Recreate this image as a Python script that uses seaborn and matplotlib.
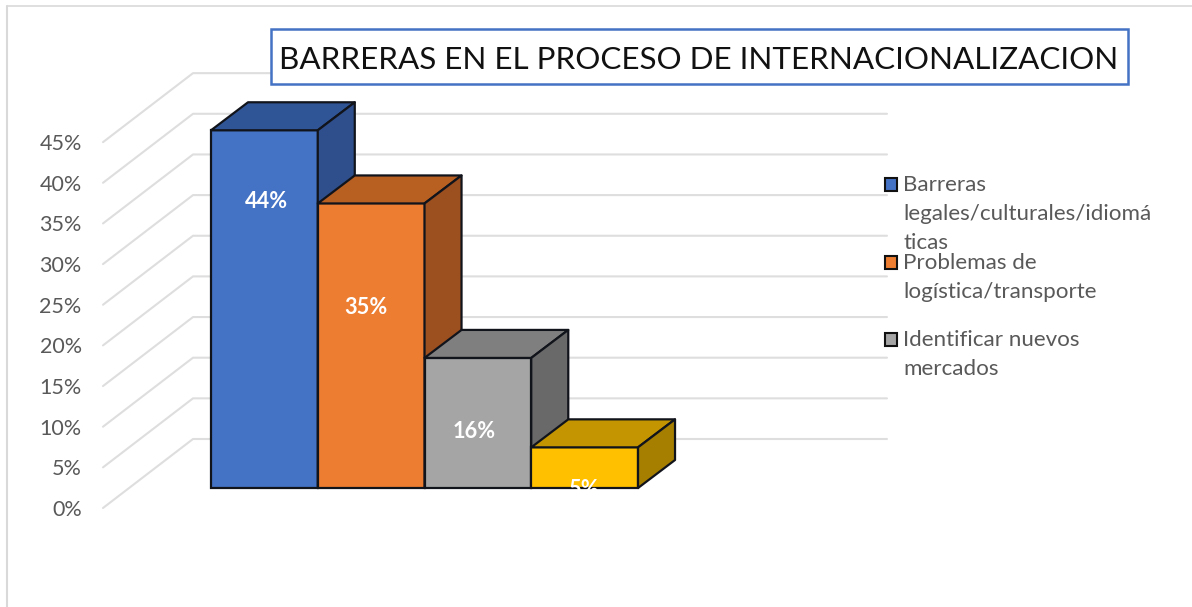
import numpy as np
import pandas as pd
import seaborn as sns
import matplotlib
matplotlib.use('Agg')
import matplotlib.pyplot as plt
from matplotlib.patches import Rectangle, Polygon
from matplotlib.lines import Line2D

categorias = ['Barreras legales/culturales/idiomáticas', 'Problemas de logística/transporte',
              'Identificar nuevos mercados', 'Otros']
valores = [44, 35, 16, 5]
etiquetas = ['44%', '35%', '16%', '5%']
ticks = [0, 5, 10, 15, 20, 25, 30, 35, 40, 45]
titulo = 'BARRERAS EN EL PROCESO DE INTERNACIONALIZACION'
leyenda = ['Barreras\nlegales/culturales/idiomá\nticas', 'Problemas de\nlogística/transporte',
           'Identificar nuevos\nmercados']

col_frente = ['#4472C4', '#ED7D31', '#A5A5A5', '#FFC000']
col_arriba = ['#2F5597', '#B85F22', '#7F7F7F', '#C49500']
col_lado = ['#2E4F8C', '#9C4F1F', '#696969', '#A67F00']
borde = '#12141c'
gris_texto = '#595959'
gris_linea = '#DEDEDE'

W, H = 1192, 607
PX_X = 106.75  # pixeles por categoria
PX_Y = 8.13    # pixeles por 1%
X0, Y0 = 264.4, 488  # centro de la primera barra, base de las barras


def xd(px):
    return (px - X0) / PX_X


def yd(py):
    return (Y0 - py) / PX_Y


sns.set_theme(style='white')
plt.rcParams['font.family'] = ['Lato', 'DejaVu Sans']

fig = plt.figure(figsize=(W / 100, H / 100), dpi=100, facecolor='white')
ax = fig.add_axes([88 / W, 0, 1 - 88 / W, 1])

df = pd.DataFrame({'categoria': categorias, 'valor': valores})
sns.barplot(data=df, x='categoria', y='valor', hue='categoria', palette=col_frente, saturation=1,
            width=1, dodge=False, legend=False, edgecolor=borde, linewidth=1.6, ax=ax, zorder=3)
barras = list(ax.patches)

ax.set_xlim(xd(88), xd(W))
ax.set_ylim(yd(H), yd(0))
ax.set_xticks([])
ax.set_xlabel('')
ax.set_ylabel('')
sns.despine(ax=ax, left=True, bottom=True)

# eje Y: el plano frontal del suelo queda mas abajo que la base de las barras
caida = 20 / PX_Y
prof_grid_x, prof_grid_y = 90 / PX_X, 69 / PX_Y
ax.set_yticks([t - caida for t in ticks])
ax.set_yticklabels([f'{t}%' for t in ticks], color=gris_texto, fontsize=15.5)
ax.tick_params(axis='y', length=0, pad=4.5)

for t in ticks:
    y = t - caida
    ax.plot([xd(103), xd(103) + prof_grid_x, xd(887)], [y, y + prof_grid_y, y + prof_grid_y],
            color=gris_linea, lw=1.5, zorder=1, solid_joinstyle='round')

# caras superior y lateral a partir de cada barra
prof_x, prof_y = 37 / PX_X, 28 / PX_Y
for i, bar in enumerate(barras):
    x1, x2 = bar.get_x(), bar.get_x() + bar.get_width()
    alto = bar.get_height()
    bar.set_zorder(3 + i)
    arriba = [(x1, alto), (x2, alto), (x2 + prof_x, alto + prof_y), (x1 + prof_x, alto + prof_y)]
    lado = [(x2, 0), (x2 + prof_x, prof_y), (x2 + prof_x, alto + prof_y), (x2, alto)]
    ax.add_patch(Polygon(arriba, closed=True, facecolor=col_arriba[i], edgecolor=borde,
                         lw=1.6, zorder=3 + i, joinstyle='round'))
    ax.add_patch(Polygon(lado, closed=True, facecolor=col_lado[i], edgecolor=borde,
                         lw=1.6, zorder=3 + i, joinstyle='round'))

# etiquetas de datos, blancas; la ultima cae sobre la base como en el original
txt_px_x = [266.5, 366, 474, 583]
txt_px_y = [201, 307, 432, 489]
for i, bar in enumerate(barras):
    ax.text(xd(txt_px_x[i]), yd(txt_px_y[i]), etiquetas[i],
            color='white', fontsize=15.7, fontweight='bold', ha='center', va='center', zorder=10)


def fx(px):
    return px / W


def fy(py):
    return 1 - py / H


# marco
fig.add_artist(Line2D([fx(7), fx(7)], [fy(6), 0], color='#D9D9D9', lw=1.5))
fig.add_artist(Line2D([fx(7), 1], [fy(6), fy(6)], color='#D9D9D9', lw=1.2))

# titulo
fig.add_artist(Rectangle((fx(271), fy(84)), (1128 - 271) / W, 55 / H, transform=fig.transFigure,
                         facecolor='white', edgecolor='#4472C4', lw=1.8, zorder=5))
fig.text(fx(699), fy(60), titulo, fontsize=22.6, color='#111111', ha='center', va='center', zorder=6)

# leyenda
y_leyenda = [184, 262, 339]
for i, txt in enumerate(leyenda):
    fig.add_artist(Rectangle((fx(884.5), fy(y_leyenda[i] + 6.5)), 12 / W, 13 / H, transform=fig.transFigure,
                             facecolor=col_frente[i], edgecolor='#111111', lw=1.5, zorder=5))
    fig.text(fx(903), fy(y_leyenda[i] - 9), txt, fontsize=16.1, color=gris_texto, ha='left', va='top',
             linespacing=1.56, zorder=6)

fig.savefig('out.png', dpi=100)
